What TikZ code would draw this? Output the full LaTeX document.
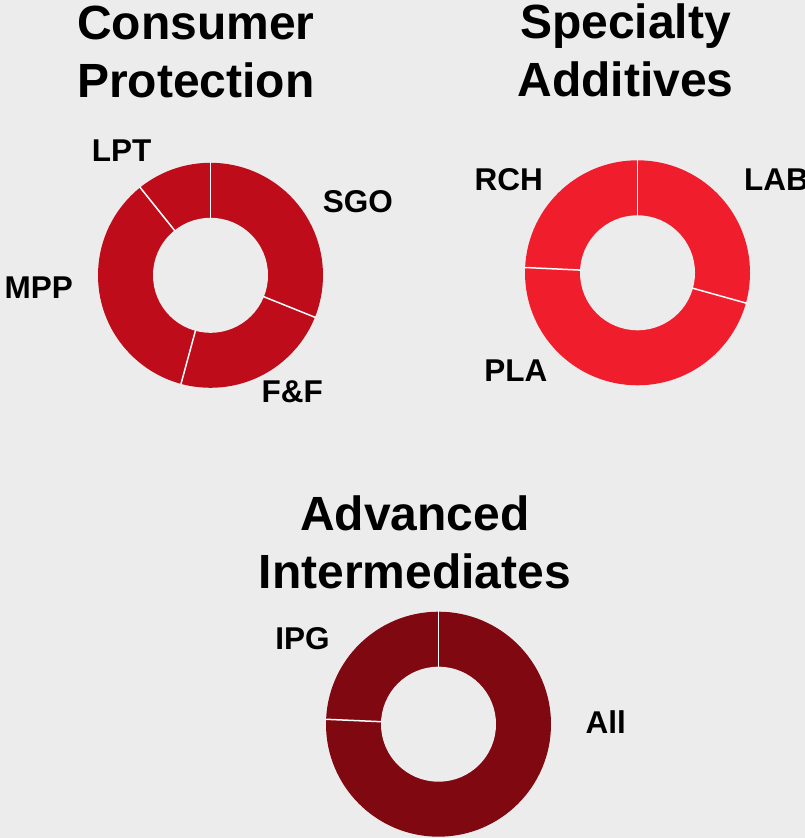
\documentclass[tikz,border=0pt]{standalone}
\usepackage{fontspec}
\setmainfont{Liberation Sans}
\usetikzlibrary{positioning}
\definecolor{bgGrey}{RGB}{236,236,236}
\definecolor{cpRed}{RGB}{190,12,26}
\definecolor{saRed}{RGB}{240,29,45}
\definecolor{aiRed}{RGB}{127,8,17}
\tikzstyle{ttl} = [font=\fontsize{48}{58}\selectfont\bfseries, align=center, inner sep=0pt]
\tikzstyle{seglabel} = [font=\fontsize{31.5}{36}\selectfont\bfseries, inner sep=0pt]
\tikzstyle{segsep} = [draw=white, line width=1.5pt]

\begin{document}
\begin{tikzpicture}[x=1pt,y=1pt]
    \path[use as bounding box, fill=bgGrey] (0,0) rectangle (805,838);

    % chart centres
    \coordinate (cpc) at (210.5,562.7);
    \coordinate (sac) at (637.5,565.2);
    \coordinate (aic) at (438.5,113.8);

    \node[ttl] (cptitle) at (195.8,785.7) {Consumer\\Protection};
    \node[ttl] (satitle) at (625.5,787.3) {Specialty\\Additives};
    \node[ttl] (aititle) at (415,295.5) {Advanced\\Intermediates};

    % rings
    \fill[cpRed] (cpc) circle (112.5);
    \fill[bgGrey] (cpc) circle (57.5);
    \foreach \a in {90,-21.9,-105.2,128.7}
    {
        \draw[segsep] (cpc) ++(\a:57) -- ++(\a:56);
    };

    \fill[saRed] (sac) circle (112.5);
    \fill[bgGrey] (sac) circle (57.5);
    \foreach \a in {90,-15.6,177.3}
    {
        \draw[segsep] (sac) ++(\a:57) -- ++(\a:56);
    };

    \fill[aiRed] (aic) circle (112.5);
    \fill[bgGrey] (aic) circle (57.5);
    \foreach \a in {90,177.5}
    {
        \draw[segsep] (aic) ++(\a:57) -- ++(\a:56);
    };

    % segment labels
    \node[seglabel] (lpt) at (121.7,687) {LPT};
    \node[seglabel] (sgo) at (357.8,636) {SGO};
    \node[seglabel] (mpp) at (38.8,550.5) {MPP};
    \node[seglabel] (ff) at (292.2,446.2) {F\&F};
    \node[seglabel] (rch) at (508.8,658.3) {RCH};
    \node[seglabel] (lab) at (776.4,658.5) {LAB};
    \node[seglabel] (pla) at (515.8,467) {PLA};
    \node[seglabel] (ipg) at (302.5,199.2) {IPG};
    \node[seglabel] (all) at (605.7,115.5) {All};
\end{tikzpicture}
\end{document}
